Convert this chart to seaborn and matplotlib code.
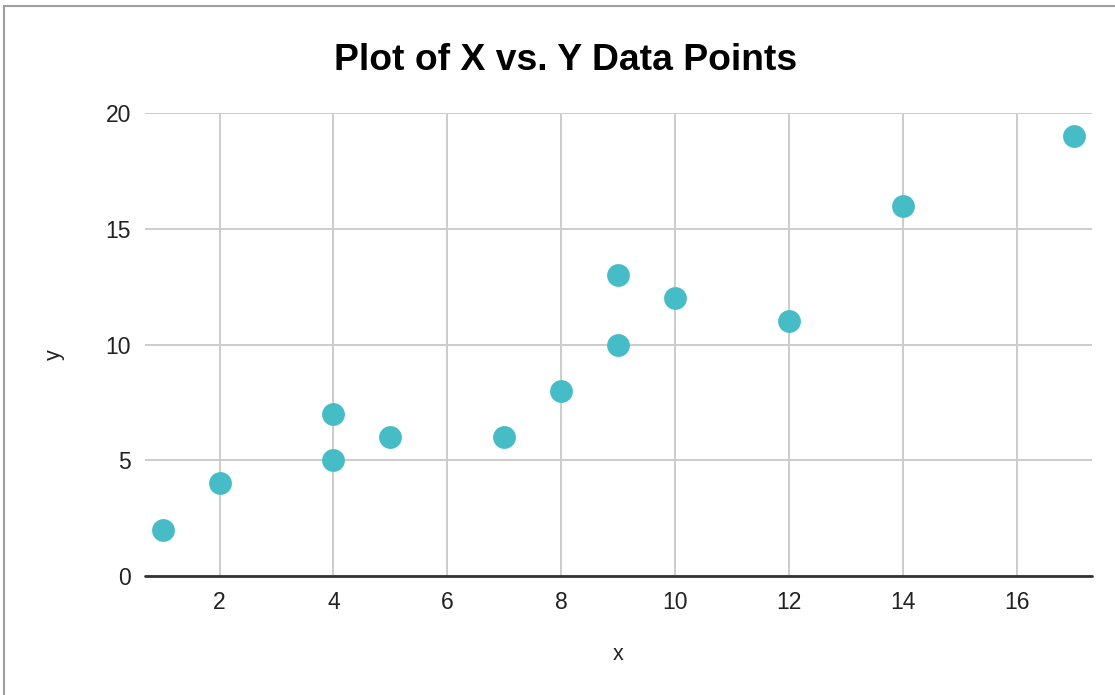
import numpy as np
import pandas as pd
import seaborn as sns
import matplotlib.pyplot as plt
from matplotlib.patches import Rectangle

# data
x_vals = [1, 2, 4, 4, 5, 7, 8, 9, 9, 10, 12, 14, 17]
y_vals = [2, 4, 5, 7, 6, 6, 8, 10, 13, 12, 11, 16, 19]
x_ticks = [2, 4, 6, 8, 10, 12, 14, 16]
y_ticks = [0, 5, 10, 15, 20]

df = pd.DataFrame({"x": x_vals, "y": y_vals})

sns.set_style("white")
plt.rcParams['font.family'] = ['Liberation Sans', 'DejaVu Sans']

fig = plt.figure(figsize=(11.15, 6.95), dpi=100)
ax = fig.add_axes([0.1300, 0.1712, 0.8494, 0.6662])

# outer frame of the screenshot
fig.patches.append(Rectangle((4 / 1115, -0.05), 1.2, (1 - 6 / 695) + 0.05,
                             transform=fig.transFigure, fill=False,
                             edgecolor='#9e9e9e', linewidth=1.5, zorder=0))

sns.scatterplot(data=df, x="x", y="y", ax=ax, color="#46bdc6", s=270,
                linewidth=0, legend=False, zorder=3)

ax.set_xlim(0.69, 17.32)
ax.set_ylim(0, 20)
ax.set_xticks(x_ticks)
ax.set_yticks(y_ticks)
ax.grid(True, color='#cccccc', linewidth=1.4)
ax.axhline(0, color='#333333', linewidth=2, zorder=2, clip_on=False)
for s in ax.spines.values():
    s.set_visible(False)
ax.tick_params(axis='both', length=0, labelsize=16.5, colors='#222222')
ax.tick_params(axis='x', pad=11)
ax.tick_params(axis='y', pad=10)
ax.set_xlabel('')
ax.set_ylabel('')

fig.text(566 / 1115, 1 - 61 / 695, 'Plot of X vs. Y Data Points',
         ha='center', va='center', fontsize=26.8, fontweight='bold', color='black')
fig.text(618 / 1115, 1 - 655 / 695, 'x', ha='center', va='center',
         fontsize=15.5, color='#222222')
fig.text(54 / 1115, 1 - 355 / 695, 'y', ha='center', va='center',
         fontsize=15.5, color='#222222', rotation=90)

fig.savefig("out.png", dpi=100)
